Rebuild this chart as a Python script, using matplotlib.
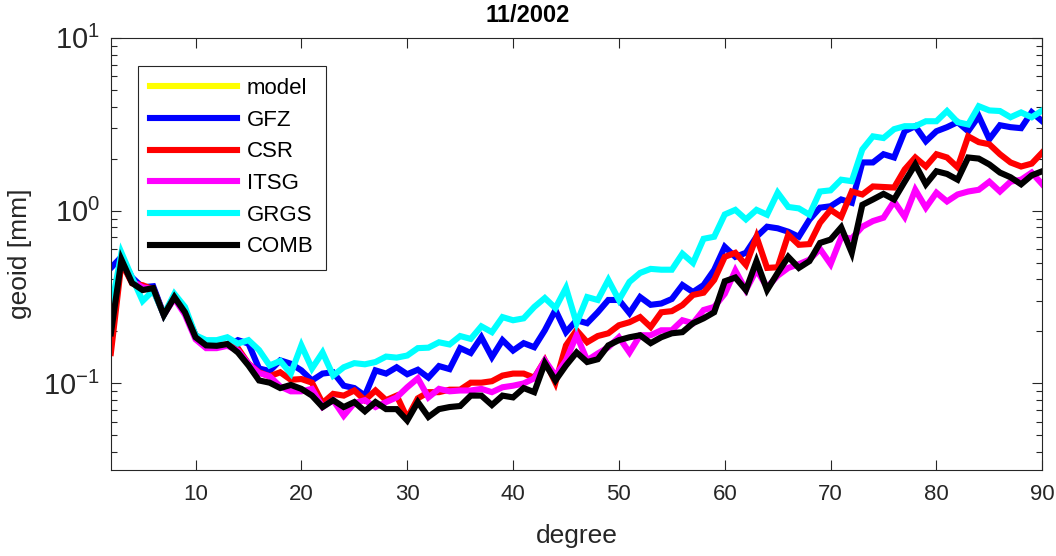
import numpy as np
import matplotlib
matplotlib.use("Agg")
import matplotlib.pyplot as plt
from matplotlib.ticker import LogLocator, NullFormatter, FixedLocator

plt.rcParams['font.family'] = ['Liberation Sans', 'DejaVu Sans']

degree = list(range(2, 91))

model = []

gfz = [0.466, 0.54, 0.41, 0.36, 0.365, 0.25, 0.32, 0.26, 0.19, 0.17, 0.165, 0.165, 0.178, 0.17,
       0.122, 0.118, 0.136, 0.13, 0.119,
       0.104, 0.114, 0.116, 0.097, 0.094, 0.085, 0.119, 0.114, 0.124, 0.113, 0.12, 0.108, 0.126,
       0.121, 0.16, 0.15, 0.185, 0.142, 0.178, 0.155,
       0.171, 0.162, 0.203, 0.266, 0.198, 0.232, 0.223, 0.258, 0.304, 0.304, 0.255, 0.316, 0.285,
       0.29, 0.308, 0.371, 0.338, 0.371, 0.454, 0.617,
       0.54, 0.57, 0.706, 0.807, 0.79, 0.755, 0.706, 0.886, 1.04, 1.06, 1.16, 1.11, 1.9, 1.9, 2.12,
       2.03, 2.88, 3.08, 2.52, 2.88, 3.04, 3.25, 2.88, 3.52, 2.59, 3.12, 3.04, 3.0, 3.71, 3.29]

csr = [0.15, 0.5, 0.38, 0.37, 0.35, 0.25, 0.32, 0.26, 0.19, 0.17, 0.165, 0.168, 0.16, 0.13,
       0.116, 0.11, 0.116, 0.105, 0.106,
       0.101, 0.077, 0.087, 0.085, 0.091, 0.08, 0.091, 0.08, 0.085, 0.063, 0.082, 0.089, 0.089,
       0.092, 0.092, 0.101, 0.101, 0.103, 0.111, 0.114,
       0.114, 0.108, 0.136, 0.101, 0.166, 0.203, 0.173, 0.188, 0.195, 0.217, 0.226, 0.242, 0.212,
       0.258, 0.262, 0.284, 0.325, 0.335, 0.397, 0.54,
       0.57, 0.485, 0.706, 0.466, 0.47, 0.725, 0.634, 0.64, 0.85, 1.01, 0.92, 1.29, 1.24, 1.38, 1.37,
       1.36, 1.73, 2.03, 1.8, 2.12, 2.03, 1.78, 2.69, 2.49, 2.42, 2.12, 1.9, 1.8, 1.87, 2.17]

itsg = [0.258, 0.52, 0.39, 0.36, 0.35, 0.25, 0.31, 0.25, 0.18, 0.16, 0.16, 0.165, 0.155, 0.13,
        0.115, 0.11, 0.096, 0.09, 0.09,
        0.093, 0.073, 0.08, 0.065, 0.077, 0.08, 0.073, 0.078, 0.083, 0.095, 0.107, 0.083, 0.093,
        0.09, 0.091, 0.091, 0.093, 0.089, 0.095, 0.097,
        0.1, 0.107, 0.136, 0.111, 0.136, 0.19, 0.136, 0.149, 0.162, 0.185, 0.151, 0.19, 0.19,
        0.203, 0.203, 0.232, 0.223, 0.266, 0.277, 0.33,
        0.45, 0.347, 0.454, 0.36, 0.42, 0.466, 0.49, 0.52, 0.6, 0.49, 0.7, 0.69, 0.807, 0.87, 0.91,
        1.13, 0.92, 1.32, 1.04, 1.27, 1.13, 1.24, 1.29, 1.32, 1.47, 1.29, 1.47, 1.51, 1.66, 1.42]

grgs = [0.266, 0.57, 0.41, 0.30, 0.345, 0.25, 0.33, 0.277, 0.19, 0.178, 0.178, 0.185, 0.17, 0.178,
        0.156, 0.127, 0.135, 0.114, 0.166,
        0.122, 0.151, 0.111, 0.124, 0.131, 0.129, 0.133, 0.143, 0.141, 0.145, 0.16, 0.161, 0.173,
        0.168, 0.188, 0.181, 0.214, 0.198, 0.242, 0.232,
        0.238, 0.277, 0.312, 0.273, 0.357, 0.223, 0.316, 0.304, 0.397, 0.304, 0.387, 0.436, 0.46,
        0.455, 0.455, 0.563, 0.498, 0.687, 0.706, 0.95,
        1.01, 0.89, 1.01, 0.947, 1.27, 1.05, 1.03, 0.947, 1.29, 1.31, 1.51, 1.48, 2.26, 2.69, 2.63,
        2.96, 3.08, 3.08, 3.29, 3.29, 3.77, 3.25, 3.15, 4.02, 3.8, 3.77, 3.47, 3.7, 3.47, 3.8]

comb = [0.195, 0.52, 0.381, 0.347, 0.356, 0.248, 0.316, 0.258, 0.185, 0.166, 0.165, 0.169, 0.151,
        0.127, 0.104, 0.101, 0.094, 0.098, 0.093,
        0.085, 0.073, 0.08, 0.073, 0.078, 0.069, 0.078, 0.071, 0.071, 0.061, 0.078, 0.064, 0.071,
        0.073, 0.074, 0.085, 0.085, 0.075, 0.085, 0.083,
        0.094, 0.089, 0.131, 0.104, 0.127, 0.151, 0.133, 0.138, 0.166, 0.178, 0.185, 0.19, 0.171,
        0.185, 0.195, 0.198, 0.223, 0.238, 0.258, 0.39,
        0.41, 0.347, 0.51, 0.347, 0.436, 0.54, 0.466, 0.51, 0.65, 0.68, 0.8, 0.57, 1.08, 1.16, 1.25,
        1.16, 1.47, 1.85, 1.42, 1.69, 1.63, 1.51, 2.03, 2.0, 1.85, 1.66, 1.56, 1.42, 1.6, 1.69]

series_names = ['model', 'GFZ', 'CSR', 'ITSG', 'GRGS', 'COMB']
series_colors = ['#ffff00', '#0000ff', '#ff0000', '#ff00ff', '#00ffff', '#000000']
x_ticks = [10, 20, 30, 40, 50, 60, 70, 80, 90]

fig = plt.figure(figsize=(10.56, 5.56), dpi=100)
ax = fig.add_axes([0.105, 0.155, 0.882, 0.777])

lw = 4.4
ax.plot(degree[:len(model)], model, color=series_colors[0], lw=lw, label=series_names[0])
for data, name, col in zip([gfz, csr, itsg, grgs, comb], series_names[1:], series_colors[1:]):
    ax.plot(degree, data, color=col, lw=lw, label=name, solid_joinstyle='miter')

ax.set_yscale('log')
ax.set_xlim(2, 90)
ax.set_ylim(10 ** -1.5, 10)
ax.xaxis.set_major_locator(FixedLocator(x_ticks))
ax.yaxis.set_major_locator(LogLocator(base=10, numticks=10))
ax.yaxis.set_minor_locator(LogLocator(base=10, subs=np.arange(2, 10), numticks=20))
ax.yaxis.set_minor_formatter(NullFormatter())

tc = '#262626'
ax.tick_params(axis='both', which='both', direction='in', top=True, right=True, colors=tc)
ax.tick_params(axis='x', labelsize=16)
ax.tick_params(axis='y', labelsize=21)
ax.tick_params(axis='both', which='major', length=7, width=0.8)
ax.tick_params(axis='y', which='minor', length=4, width=0.8)
ax.tick_params(axis='x', which='major', pad=10)
ax.tick_params(axis='y', which='major', pad=8)
for s in ax.spines.values():
    s.set_color(tc)
    s.set_linewidth(0.8)

ax.set_xlabel('degree', fontsize=19, color=tc, labelpad=14)
ax.set_ylabel('geoid [mm]', fontsize=19, color=tc, labelpad=8)
fig.text(0.5, 0.972, '11/2002', fontsize=17, fontweight='bold', color='black',
         ha='center', va='center')

leg = ax.legend(loc='upper left', bbox_to_anchor=(0.029, 0.935), borderaxespad=0,
                fontsize=16, handlelength=3.9, handletextpad=0.45, labelspacing=0.48,
                borderpad=0.55, fancybox=False, framealpha=1, edgecolor=tc)
leg.get_frame().set_linewidth(0.8)

fig.savefig('out.png', dpi=100)
